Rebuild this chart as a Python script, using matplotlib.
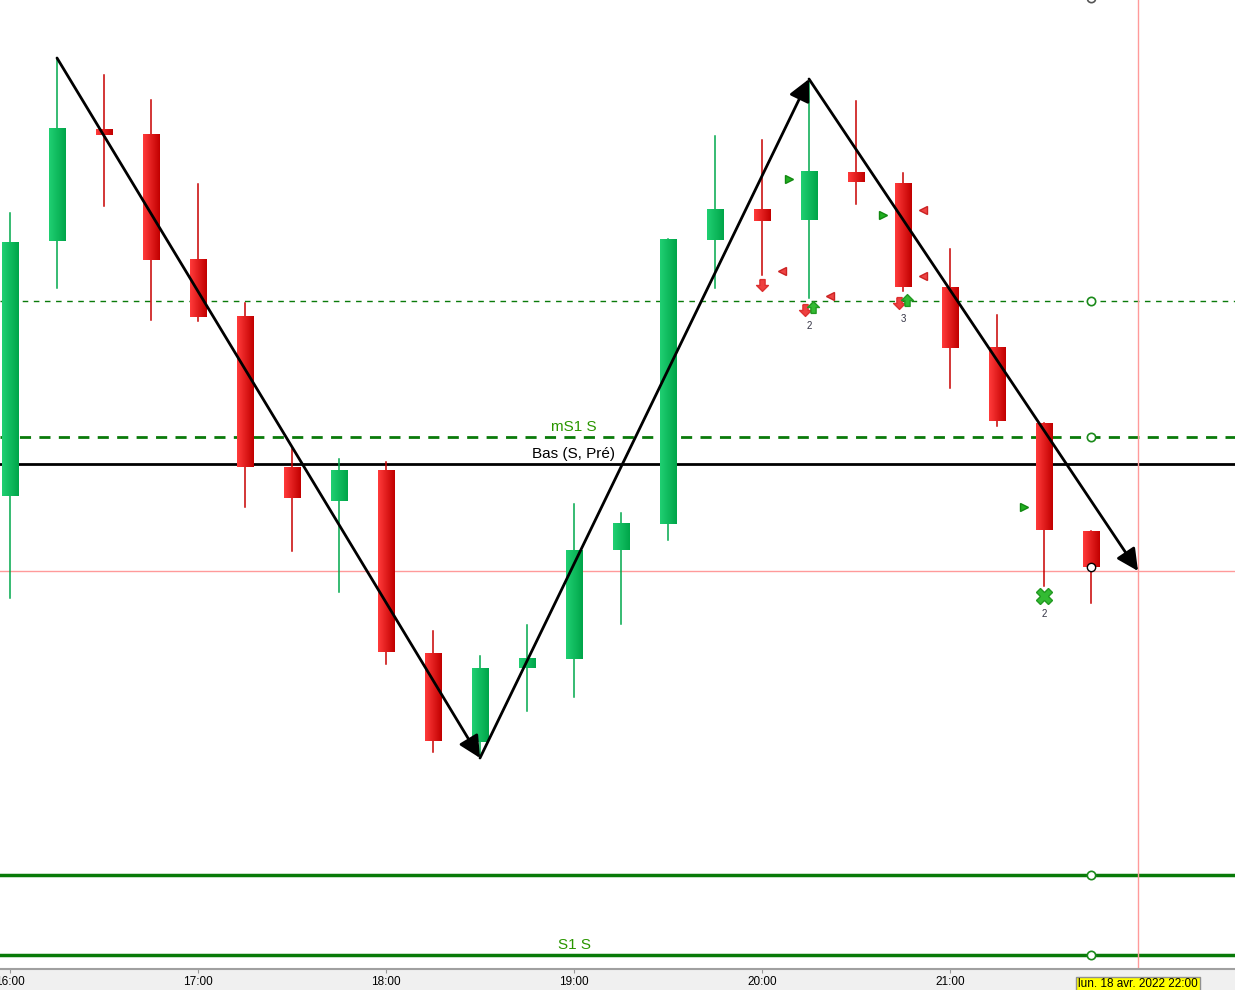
import numpy as np
import matplotlib
matplotlib.use("Agg")
import matplotlib.pyplot as plt
from matplotlib.path import Path
from matplotlib.colors import LinearSegmentedColormap

plt.rcParams['font.family'] = ['Liberation Sans', 'DejaVu Sans']

# Bougies 15 min, lun. 18 avr. 2022 16:00 -> 21:45 (prix en unités relatives)
opens  = [504, 759, 871, 866, 741, 684, 533, 499, 530, 347, 258, 332,
          341, 450, 476, 760, 791, 780, 828, 817, 713, 653, 577, 469]
highs  = [787, 942, 925, 900, 816, 697, 551, 541, 538, 369, 344, 375,
          496, 487, 761, 864, 860, 921, 899, 827, 751, 685, 577, 469]
lows   = [402, 712, 794, 680, 679, 493, 449, 408, 336, 248, 242, 289,
          303, 376, 460, 712, 725, 702, 796, 709, 612, 574, 414, 397]
closes = [758, 872, 865, 740, 683, 533, 502, 530, 348, 259, 332, 342,
          450, 477, 761, 791, 779, 829, 818, 713, 652, 579, 470, 433]
tick_labels = ["16:00", "17:00", "18:00", "19:00", "20:00", "21:00"]

# niveaux horizontaux
level_pivot = 699
level_ms1 = 563
level_bas = 536
level_s1m = 125
level_s1 = 45
cross_idx, cross_price = 24, 429

# zigzag (index, prix)
zz_x = [1, 10, 17, 24]
zz_y = [942, 242, 921, 429]

# signaux
right_green = [(16.57, 821), (18.57, 785), (21.57, 493)]
left_red = [(16.43, 729), (17.45, 704), (19.43, 790), (19.43, 724)]
down_red = [(16.0, 715), (16.92, 690), (18.92, 697)]
up_green = [(17.08, 693), (19.08, 700)]
count_labels = [(17.0, 679, "2"), (19.0, 686, "3"), (22.0, 391, "2")]
cross_green = [(22.0, 404)]

fig = plt.figure(figsize=(12.35, 9.9), dpi=100)
fig.patch.set_facecolor("#f0f0f0")
ax = fig.add_axes([0, 21 / 990, 1, 969 / 990])
ax.set_facecolor("white")

xmin, xmax = -10 / 47, (1235 - 10) / 47
ymin, ymax = 31, 1000

g_cmap = LinearSegmentedColormap.from_list("g", ["#20cf72", "#00a64a"])
r_cmap = LinearSegmentedColormap.from_list("r", ["#ff3a3a", "#c20000"])
grad = np.linspace(0, 1, 32).reshape(1, -1)
w = 0.36

for i, (o, h, l, c) in enumerate(zip(opens, highs, lows, closes)):
    up = c >= o
    wick_col = "#00a84c" if up else "#c80000"
    ax.plot([i, i], [l, h], color=wick_col, lw=1.1, zorder=2)
    lo, hi = min(o, c), max(o, c)
    ax.imshow(grad, cmap=g_cmap if up else r_cmap, aspect="auto",
              extent=(i - w / 2, i + w / 2, lo, hi), zorder=3)

# lignes horizontales
ax.axhline(level_pivot, color="#0a7a0a", lw=1, ls=(0, (4, 4)), zorder=1)
ax.axhline(level_ms1, color="#0a7a0a", lw=2, ls=(0, (4, 3)), zorder=1)
ax.axhline(level_bas, color="black", lw=2, zorder=1)
ax.axhline(level_s1m, color="#087a08", lw=2.5, zorder=1)
ax.axhline(level_s1, color="#087a08", lw=2.5, zorder=1)

ax.text(12, level_ms1 + 3, "mS1 S", color="#2a9600", fontsize=11, ha="center", va="bottom")
ax.text(12, level_bas + 3, "Bas (S, Pré)", color="black", fontsize=11, ha="center", va="bottom")
ax.text(12, level_s1 + 3, "S1 S", color="#2a9600", fontsize=11, ha="center", va="bottom")

for lv in [level_pivot, level_ms1, level_s1m, level_s1]:
    ax.plot(23, lv, "o", ms=6, mfc="white", mec="#1a8a1a", mew=1.2, zorder=6)
ax.plot(23, 1002, "o", ms=6, mfc="white", mec="#555555", mew=1.2, zorder=6)

# réticule
ax.axhline(cross_price, color="#ff9a9a", lw=1, zorder=1)
ax.axvline(cross_idx, color="#ff9a9a", lw=1, zorder=1)

# zigzag avec flèches
for k in range(len(zz_x) - 1):
    ax.annotate("", xy=(zz_x[k + 1], zz_y[k + 1]), xytext=(zz_x[k], zz_y[k]),
                arrowprops=dict(arrowstyle="-|>,head_length=0.6,head_width=0.3",
                                color="black", lw=2,
                                mutation_scale=22, shrinkA=0, shrinkB=0),
                zorder=7)

# dernière clôture
ax.plot(23, closes[-1], "o", ms=6, mfc="white", mec="black", mew=1, zorder=8)

# signaux
up_arrow = Path([(-0.22, -0.5), (0.22, -0.5), (0.22, 0.0), (0.5, 0.0),
                 (0.0, 0.5), (-0.5, 0.0), (-0.22, 0.0), (-0.22, -0.5)])
down_arrow = Path([(x, -y) for x, y in up_arrow.vertices])
for x, y in right_green:
    ax.plot(x, y, marker=">", ms=6, color="#22b022", mec="#118811", zorder=8)
for x, y in left_red:
    ax.plot(x, y, marker="<", ms=6, color="#ee4444", mec="#cc2222", zorder=8)
for x, y in down_red:
    ax.plot(x, y, marker=down_arrow, ms=8.5, color="#ee4040", mec="#dd3030", zorder=8)
for x, y in up_green:
    ax.plot(x, y, marker=up_arrow, ms=8.5, color="#33bb33", mec="#229922", zorder=8)
for x, y in cross_green:
    ax.plot(x, y, marker="X", ms=11, color="#33bb33", mec="#229922", zorder=8)
for x, y, s in count_labels:
    ax.text(x, y, s, fontsize=7, color="#333344", ha="center", va="top", zorder=8)

ax.set_xlim(xmin, xmax)
ax.set_ylim(ymin, ymax)
ax.set_xticks(range(0, 24, 4))
ax.set_xticklabels(tick_labels, fontsize=8.5)
ax.tick_params(axis="x", length=3, color="#999999", pad=2)
ax.set_yticks([])
for s in ["top", "left", "right"]:
    ax.spines[s].set_visible(False)
ax.spines["bottom"].set_color("#a0a0a0")
ax.spines["bottom"].set_linewidth(1.5)

ax.annotate("lun. 18 avr. 2022 22:00", xy=(cross_idx, ymin), xycoords="data",
            xytext=(0, -11), textcoords="offset points", ha="center", va="center",
            fontsize=8.5, color="black", annotation_clip=False,
            bbox=dict(boxstyle="square,pad=0.15", fc="#ffff00", ec="#909090", lw=1))

fig.savefig("out.png", dpi=100)
